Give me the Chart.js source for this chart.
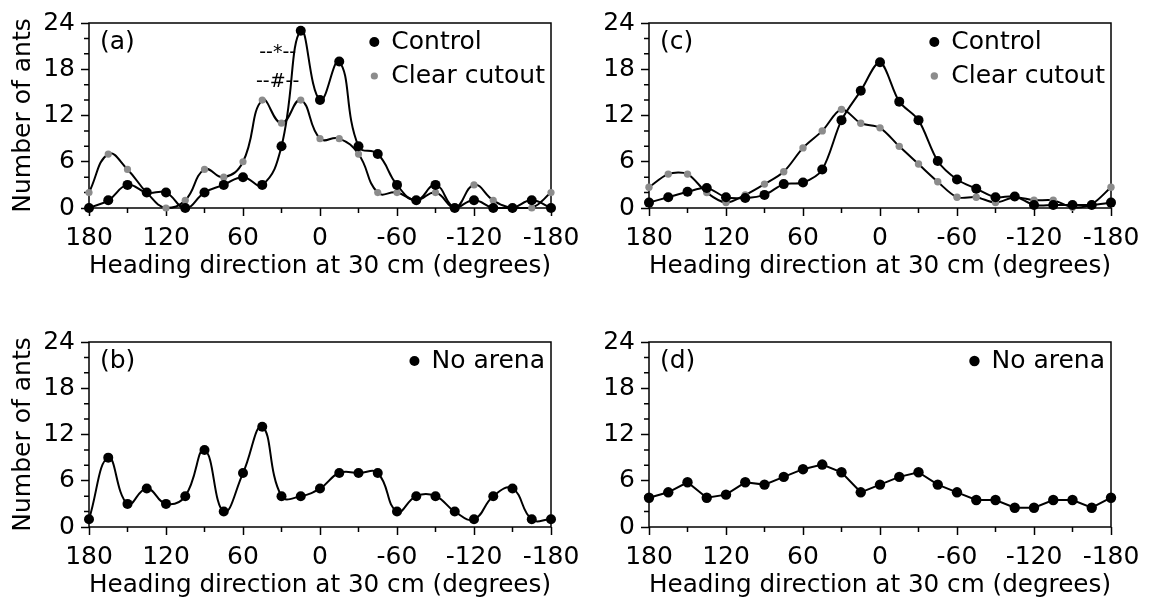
<!DOCTYPE html>
<html>
<head>
<meta charset="utf-8">
<script src="https://cdn.jsdelivr.net/npm/chart.js@4.4.1/dist/chart.umd.min.js"></script>
<style>
  html, body { margin: 0; padding: 0; background: #fff; overflow: hidden; width: 1150px; height: 610px; }
  canvas { position: absolute; }
</style>
</head>
<body>
<canvas id="pa" width="591" height="300" style="left:0;top:0"></canvas>
<canvas id="pc" width="575" height="300" style="left:575px;top:0"></canvas>
<canvas id="pb" width="591" height="300" style="left:0;top:319px"></canvas>
<canvas id="pd" width="575" height="300" style="left:575px;top:319px"></canvas>
<script>
// Heading directions (degrees), one bin every 15 degrees
const angles = [180, 165, 150, 135, 120, 105, 90, 75, 60, 45, 30, 15, 0,
                -15, -30, -45, -60, -75, -90, -105, -120, -135, -150, -165, -180];

// (a) counts
const aControl     = [0, 1, 3, 2, 2, 0, 2, 3, 4, 3, 8, 23, 14, 19, 8, 7, 3, 1, 3, 0, 1, 0, 0, 1, 0];
const aClearCutout = [2, 7, 5, 2, 0, 1, 5, 4, 6, 14, 11, 14, 9, 9, 7, 2, 2, 1, 2, 0, 3, 1, 0, 0, 2];
// (b) counts
const bNoArena     = [1, 9, 3, 5, 3, 4, 10, 2, 7, 13, 4, 4, 5, 7, 7, 7, 2, 4, 4, 2, 1, 4, 5, 1, 1];
// (c) counts
const cControl     = [0.7, 1.4, 2.1, 2.6, 1.4, 1.3, 1.7, 3.1, 3.3, 5.0, 11.4, 15.2, 18.9,
                      13.8, 11.4, 6.1, 3.7, 2.5, 1.4, 1.5, 0.4, 0.4, 0.4, 0.4, 0.7];
const cClearCutout = [2.7, 4.4, 4.4, 2.0, 0.7, 1.7, 3.1, 4.7, 7.8, 10.0, 12.8, 11.0, 10.4,
                      8.0, 5.7, 3.4, 1.4, 1.4, 0.7, 1.4, 1.0, 1.0, 0.1, 0.5, 2.7];
// (d) counts
const dNoArena     = [3.8, 4.5, 5.8, 3.8, 4.2, 5.8, 5.5, 6.5, 7.5, 8.1, 7.1, 4.5, 5.5,
                      6.5, 7.1, 5.5, 4.5, 3.5, 3.5, 2.5, 2.5, 3.5, 3.5, 2.5, 3.8];

// Axis ticks
const xTickLabels = [180, 120, 60, 0, -60, -120, -180];
const xMinorTicks = [150, 90, 30, -30, -90, -150];
const yTickLabels = [0, 6, 12, 18, 24];
const yMinorTicks = [2, 4, 8, 10, 14, 16, 20, 22];

const FONT = '"DejaVu Sans", "Liberation Sans", sans-serif';
const GREY = '#8c8c8c';
Chart.defaults.font.family = FONT;
Chart.defaults.color = '#000';

const toPoints = vals => angles.map((a, i) => ({ x: a, y: vals[i] }));

// Box around the plot area plus the short minor tick marks
const framePlugin = {
  id: 'frame',
  beforeDatasetsDraw(chart) {
    const { ctx, chartArea: a, scales: { x, y } } = chart;
    ctx.save();
    ctx.strokeStyle = '#000';
    ctx.lineWidth = 1.5;
    ctx.strokeRect(a.left, a.top, a.right - a.left, a.bottom - a.top);
    ctx.beginPath();
    xMinorTicks.forEach(v => {
      const px = x.getPixelForValue(v);
      ctx.moveTo(px, a.bottom); ctx.lineTo(px, a.bottom + 5);
    });
    yMinorTicks.forEach(v => {
      const py = y.getPixelForValue(v);
      ctx.moveTo(a.left - 5, py); ctx.lineTo(a.left, py);
    });
    ctx.stroke();
    ctx.restore();
  },
  afterDraw(chart, args, opts) {
    const { ctx, chartArea: a, scales: { x, y } } = chart;
    ctx.save();
    ctx.font = '25px ' + FONT;
    ctx.fillStyle = '#000';
    ctx.textBaseline = 'middle';
    ctx.textAlign = 'left';
    // panel letter
    ctx.fillText(opts.tag, a.left + 11, a.top + 19);
    // legend, top right inside the box
    const ds = chart.data.datasets;
    const w = Math.max(...ds.map(d => ctx.measureText(d.label).width));
    const tx = a.right - 6 - w;
    ds.forEach((d, i) => {
      const yy = a.top + 19 + i * 34;
      ctx.beginPath();
      ctx.fillStyle = d.pointBackgroundColor;
      ctx.arc(tx - 17, yy, d.pointRadius, 0, Math.PI * 2);
      ctx.fill();
      ctx.fillStyle = '#000';
      ctx.fillText(d.label, tx, yy);
    });
    // significance marks
    (opts.notes || []).forEach(n => {
      ctx.font = '19px ' + FONT;
      ctx.textAlign = 'center';
      ctx.fillText(n.text, x.getPixelForValue(n.x), y.getPixelForValue(n.y));
    });
    ctx.restore();
  }
};

function series(label, vals, color, radius, tension) {
  return {
    label,
    data: toPoints(vals),
    borderColor: '#000',
    borderWidth: 2,
    tension,
    pointRadius: radius,
    pointHoverRadius: radius,
    pointBackgroundColor: color,
    pointBorderColor: color,
    pointBorderWidth: 0,
    clip: false
  };
}

function panel(id, datasets, tag, withYTitle, notes) {
  const canvas = document.getElementById(id);
  const yWidth = withYTitle ? 89 : 74;
  const rightPad = canvas.width - yWidth - 462;
  return new Chart(canvas, {
    type: 'line',
    data: { datasets },
    options: {
      responsive: false,
      animation: false,
      devicePixelRatio: 1,
      layout: { padding: { top: 23, right: rightPad, left: 0, bottom: 0 } },
      plugins: {
        legend: { display: false },
        tooltip: { enabled: false },
        frame: { tag, notes }
      },
      scales: {
        x: {
          type: 'linear',
          reverse: true,
          min: -180, max: 180,
          afterFit: s => { s.height = 92; },
          grid: {
            drawOnChartArea: false,
            tickLength: 8,
            tickWidth: 1.5,
            tickColor: c => xTickLabels.includes(c.tick.value) ? '#000' : 'rgba(0,0,0,0)'
          },
          border: { display: false },
          ticks: {
            stepSize: 30,
            autoSkip: false,
            maxRotation: 0,
            padding: 7,
            font: { size: 25 },
            callback: v => xTickLabels.includes(v) ? String(v) : ''
          },
          title: {
            display: true,
            text: 'Heading direction at 30 cm (degrees)',
            font: { size: 25 },
            padding: { top: 0, bottom: 19 }
          }
        },
        y: {
          min: 0, max: 24,
          afterFit: s => { s.width = yWidth; },
          grid: {
            drawOnChartArea: false,
            tickLength: 8,
            tickWidth: 1.5,
            tickColor: c => yTickLabels.includes(c.tick.value) ? '#000' : 'rgba(0,0,0,0)'
          },
          border: { display: false },
          ticks: {
            stepSize: 2,
            autoSkip: false,
            padding: 6,
            font: { size: 25 },
            callback: v => yTickLabels.includes(v) ? String(v) : ''
          },
          title: {
            display: withYTitle,
            text: 'Number of ants',
            font: { size: 25 },
            padding: { top: 8, bottom: 0 }
          }
        }
      }
    },
    plugins: [framePlugin]
  });
}

panel('pa', [
  series('Control', aControl, '#000', 5, 0.45),
  series('Clear cutout', aClearCutout, GREY, 3.6, 0.45)
], '(a)', true, [
  { text: '--*--', x: 33, y: 20.1 },
  { text: '--#--', x: 33, y: 16.3 }
]);

panel('pc', [
  series('Control', cControl, '#000', 5, 0.3),
  series('Clear cutout', cClearCutout, GREY, 3.7, 0.3)
], '(c)', false);

panel('pb', [
  series('No arena', bNoArena, '#000', 5, 0.45)
], '(b)', true);

panel('pd', [
  series('No arena', dNoArena, '#000', 5.2, 0)
], '(d)', false);
</script>
</body>
</html>
